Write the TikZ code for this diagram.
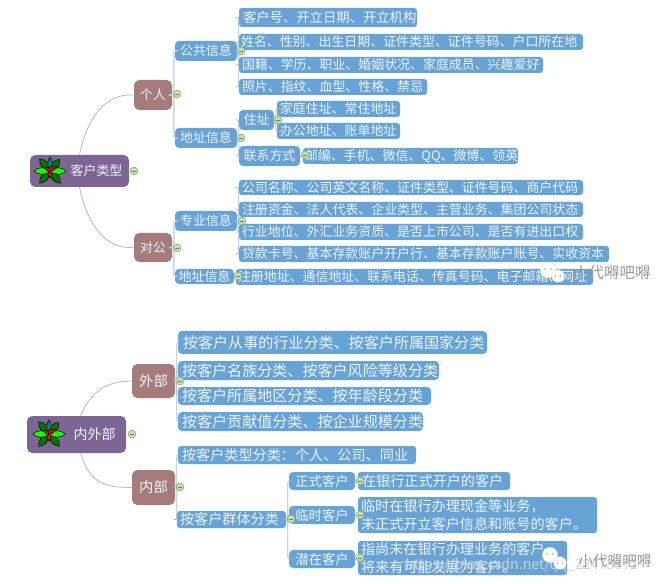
\documentclass[tikz,border=0pt]{standalone}
\usepackage{fontspec}
\setmainfont{Noto Sans CJK SC}
\usetikzlibrary{calc}
\definecolor{leafblue}{HTML}{67A3D5}
\definecolor{maroon}{HTML}{A67B7C}
\definecolor{rootpurple}{HTML}{7D6594}
\definecolor{txt}{HTML}{EEF3FA}
\definecolor{lnk}{HTML}{A9BDD0}
\definecolor{togfill}{HTML}{CBDDB8}
\definecolor{togline}{HTML}{8FBC7C}
\definecolor{togbar}{HTML}{5F8A55}
\definecolor{urlgray}{HTML}{CFD3D8}
\newcommand{\bx}[8]{% name style x1 y1 x2 y2 pad text
  \pgfmathsetmacro{\bw}{(#5-#3)*0.75}\pgfmathsetmacro{\bh}{(#6-#4)*0.75}
  \pgfmathsetmacro{\tw}{(#5-#3-2*#7)*0.75}
  \node[#2,minimum width=\bw pt,minimum height=\bh pt,text width=\tw pt] (#1) at ({(#3+#5)/2},{(#4+#6)/2}) {#8};}
\newcommand{\fleaf}[4]{\draw[black,line width=.35pt,fill=#4,rotate=#1] (0,0) .. controls ({#2*.35},{#3}) and ({#2*.8},{#3*.7}) .. (#2,0) .. controls ({#2*.8},{-#3*.7}) and ({#2*.35},{-#3}) .. (0,0);}
\tikzset{
  box/.style={rounded corners=2.2pt,fill=leafblue,text=txt,inner sep=0pt,align=left,anchor=center,font=\fontsize{9.7pt}{12.6pt}\selectfont},
  big/.style={box,font=\fontsize{10.6pt}{14pt}\selectfont},
  bigger/.style={box,rounded corners=3pt,font=\fontsize{11.3pt}{14pt}\selectfont},
  mid/.style={box,rounded corners=3pt,font=\fontsize{9.7pt}{12pt}\selectfont,align=center},
  midb/.style={mid,font=\fontsize{10pt}{12pt}\selectfont},
  brown/.style={box,fill=maroon,rounded corners=4pt,align=center,font=\fontsize{9.6pt}{12pt}\selectfont},
  brownb/.style={brown,font=\fontsize{10.8pt}{12pt}\selectfont},
  rootbox/.style={box,fill=rootpurple,rounded corners=4pt,font=\fontsize{9.7pt}{12pt}\selectfont,align=left},
  link/.style={draw=lnk,line width=.6pt,rounded corners=1.5pt},
  trunk/.style={draw=lnk!60,line width=1.1pt,rounded corners=1.5pt},
  curve/.style={draw=lnk,line width=.6pt},
  tog/.style={circle,draw=togline,fill=togfill,line width=.6pt,minimum size=5.8pt,inner sep=0pt,
    path picture={\draw[togbar,line width=.45pt] ($(path picture bounding box.west)+(1.2pt,0)$) -- ($(path picture bounding box.east)+(-1.2pt,0)$);}},
  wm/.style={text=gray!80,font=\fontsize{11.6pt}{12pt}\selectfont,inner sep=0pt,anchor=west},
  bubble/.style={circle,fill=white,draw=gray!30,line width=.3pt,inner sep=0pt},
  eye/.style={circle,fill=gray!70,inner sep=0pt,minimum size=1.3pt},
  flower/.pic={
    \fleaf{-130}{16}{5.5}{green!45!black}
    \fleaf{-50}{16}{5.5}{green!45!black}
    \fleaf{130}{16}{5.5}{green!45!black}
    \fleaf{50}{15}{5.5}{green!45!black}
    \fleaf{90}{14}{3.5}{teal}
    \fleaf{180}{16}{5}{green!90!yellow}
    \fleaf{0}{16}{5}{green!90!yellow}
    \fleaf{-90}{7}{3}{red}
    \fleaf{35}{8}{2.5}{red}
    \fleaf{145}{6}{2.5}{red}
    \fleaf{70}{6}{2.5}{red}
  }
}
\begin{document}
\begin{tikzpicture}[x=0.75pt,y=-0.75pt]
\useasboundingbox (0,0) rectangle (667,584);
\fill[white] (0,0) rectangle (667,584);

% top tree
\bx{r1}{rootbox}{30}{155}{129}{187}{20}{\hspace*{15.5pt}客户类型}
\bx{p}{brown}{134}{80}{172}{110}{1}{个人}
\bx{c}{brown}{134}{233}{172}{262}{1}{对公}
\bx{gg}{mid}{175}{41}{237}{61}{2}{公共信息}
\bx{dz}{mid}{175}{128}{237}{148}{2}{地址信息}
\bx{a1}{box}{239}{8}{417}{27}{4}{\fontsize{10pt}{12pt}\selectfont 客户号、开立日期、开立机构}
\bx{a2}{box}{239}{34}{583}{50}{2}{姓名、性别、出生日期、证件类型、证件号码、户口所在地}
\bx{a3}{box}{239}{57}{543}{73}{3}{国籍、学历、职业、婚姻状况、家庭成员、兴趣爱好}
\bx{a4}{box}{239}{79}{427}{95}{3}{照片、指纹、血型、性格、禁忌}
\bx{zz}{mid}{239}{110}{274}{130}{1}{住址}
\bx{b1}{box}{277}{101}{400}{117}{3}{家庭住址、常住地址}
\bx{b2}{box}{277}{123}{400}{139}{3}{办公地址、账单地址}
\bx{lx}{mid}{239}{146}{300}{166}{1}{联系方式}
\bx{b3}{box}{303}{148}{518}{164}{2}{邮编、手机、微信、QQ、微博、领英}
\bx{zy}{mid}{175}{211}{237}{231}{2}{专业信息}
\bx{dz2}{mid}{175}{269}{234}{284}{1}{地址信息}
\bx{c1}{box}{239}{180}{583}{195}{3}{公司名称、公司英文名称、证件类型、证件号码、商户代码}
\bx{c2}{box}{239}{202}{583}{217}{3}{注册资金、法人代表、企业类型、主营业务、集团公司状态}
\bx{c3}{box}{239}{224}{583}{240}{3}{行业地位、外汇业务资质、是否上市公司、是否有进出口权}
\bx{c4}{box}{239}{246}{609}{262}{3}{贷款卡号、基本存款账户开户行、基本存款账户账号、实收资本}
\bx{c5}{box}{236}{269}{593}{285}{2}{注册地址、通信地址、联系电话、传真号码、电子邮箱、网址}

% bottom tree
\bx{r2}{rootbox}{27}{416}{126}{453}{20}{\hspace*{20pt}\fontsize{10.5pt}{12pt}\selectfont 内外部}
\bx{w}{brownb}{132}{364}{175}{398}{1}{外部}
\bx{n}{brownb}{132}{470}{175}{505}{1}{内部}
\bx{d1}{bigger}{178}{331}{487}{354}{5}{按客户从事的行业分类、按客户所属国家分类}
\bx{d2}{bigger}{178}{361}{439}{380}{4}{按客户名族分类、按客户风险等级分类}
\bx{d3}{bigger}{178}{387}{431}{405}{4}{按客户所属地区分类、按年龄段分类}
\bx{d4}{bigger}{178}{412}{423}{431}{4}{按客户贡献值分类、按企业规模分类}
\bx{e1}{big}{178}{446}{416}{464}{4}{按客户类型分类：个人、公司、同业}
\bx{e2}{big}{177}{511}{286}{528}{3}{按客户群体分类}
\bx{f1}{midb}{289}{472}{355}{490}{1}{正式客户}
\bx{f2}{midb}{289}{506}{355}{524}{1}{临时客户}
\bx{f3}{midb}{289}{550}{355}{568}{1}{潜在客户}
\bx{g1}{big}{358}{472}{510}{490}{4}{在银行正式开户的客户}
\bx{g2}{big}{358}{497}{597}{533}{3}{临时在银行办理现金等业务，\\未正式开立客户信息和账号的客户。}
\bx{g3}{big}{358}{541}{567}{575}{3}{指尚未在银行办理业务的客户，\\将来有可能发展为客户。}

% connectors
\draw[curve] (r1.north) .. controls +(8,-38) and +(-28,-2) .. (p.west);
\draw[curve] (r1.south) .. controls +(8,38) and +(-28,2) .. (c.west);
\draw[curve] ([xshift=3pt]r2.north) .. controls +(10,-22) and +(-28,0) .. (w.west);
\draw[curve] ([xshift=3pt]r2.south) .. controls +(10,30) and +(-28,0) .. (n.west);
\foreach \pa/\ch in {p/gg,p/dz,c/zy,c/dz2}
  \draw[trunk] (\pa.east) -- ++(1.5,0) |- (\ch.west);
\foreach \pa/\ch in {gg/a1,gg/a2,gg/a3,gg/a4,dz/zz,dz/lx,zz/b1,zz/b2,zy/c1,zy/c2,zy/c3,zy/c4,
  w/d1,w/d2,w/d3,w/d4,n/e1,n/e2,e2/f1,e2/f2,e2/f3}
  \draw[link] (\pa.east) -- ++(1.5,0) |- (\ch.west);
\foreach \pa/\ch in {lx/b3,dz2/c5,f1/g1,f2/g2,f3/g3}
  \draw[link] (\pa.east) -- (\pa.east -| \ch.west);

% icons
\pic at (50,171) {flower};
\pic at (49,434) {flower};

% collapse toggles
\foreach \n/\x/\y in {t1/134/171,t2/177/94,t3/241/51,t4/241/138,t5/278/120,t6/305/155,t7/177/248,t8/242/221,t9/238/276,
  t10/132/434,t11/180/381,t12/180/487,t13/291/519,t14/360/481,t15/360/515,t16/360/558}
  \node[tog] (\n) at (\x,\y) {};

% watermarks
\node[wm,text=urlgray,font=\fontsize{10.6pt}{12pt}\selectfont] (wv) at (405,566) {https://blog.csdn.net/qq\_22473671};
\node[bubble,minimum size=12pt] (wa) at (548,270) {};
\node[bubble,minimum size=9.5pt] (wb) at (558,276) {};
\node[eye] at ($(wa)+(-3,-1)$) {};
\node[eye] at ($(wa)+(3,-1)$) {};
\node[eye] at ($(wb)+(-2.5,0)$) {};
\node[eye] at ($(wb)+(2.5,0)$) {};
\node[wm] (wt) at (573,273) {小代嘚吧嘚};
\node[bubble,minimum size=11.5pt] (wc) at (550,555) {};
\node[bubble,minimum size=9.5pt] (wd) at (560,563) {};
\node[eye] at ($(wc)+(-3,-1)$) {};
\node[eye] at ($(wc)+(3,-1)$) {};
\node[eye] at ($(wd)+(-2.5,0)$) {};
\node[eye] at ($(wd)+(2.5,0)$) {};
\node[wm,font=\fontsize{11pt}{12pt}\selectfont] (wu) at (578,561) {小代嘚吧嘚};
\end{tikzpicture}
\end{document}
